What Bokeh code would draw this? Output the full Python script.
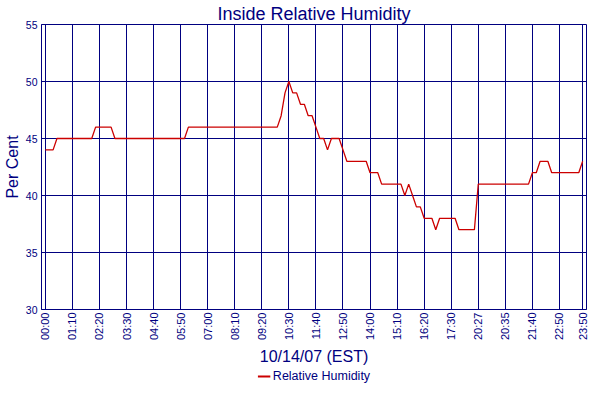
import math
from bokeh.plotting import figure
from bokeh.layouts import column
from bokeh.models import Range1d, FixedTicker, Legend, LegendItem
from bokeh.embed import file_html
from bokeh.resources import INLINE

# ---- data (sample index, relative humidity %) ----
rh_values = [
    44, 44, 44, 45, 45, 45, 45, 45, 45, 45,
    45, 45, 45, 46, 46, 46, 46, 46, 45, 45,
    45, 45, 45, 45, 45, 45, 45, 45, 45, 45,
    45, 45, 45, 45, 45, 45, 45, 46, 46, 46,
    46, 46, 46, 46, 46, 46, 46, 46, 46, 46,
    46, 46, 46, 46, 46, 46, 46, 46, 46, 46,
    46, 47, 49, 50, 49, 49, 48, 48, 47, 47,
    46, 45, 45, 44, 45, 45, 45, 44, 43, 43,
    43, 43, 43, 43, 42, 42, 42, 41, 41, 41,
    41, 41, 41, 40, 41, 40, 39, 39, 38, 38,
    38, 37, 38, 38, 38, 38, 38, 37, 37, 37,
    37, 37, 41, 41, 41, 41, 41, 41, 41, 41,
    41, 41, 41, 41, 41, 41, 42, 42, 43, 43,
    43, 42, 42, 42, 42, 42, 42, 42, 42, 43,
]
sample_index = list(range(len(rh_values)))

tick_labels = ["00:00", "01:10", "02:20", "03:30", "04:40", "05:50", "07:00",
               "08:10", "09:20", "10:30", "11:40", "12:50", "14:00", "15:10",
               "16:20", "17:30", "20:27", "20:35", "21:40", "22:50", "23:50"]
tick_index = [0, 7, 14, 21, 28, 35, 42, 49, 56, 63, 70, 77, 84, 91, 98,
              105, 112, 119, 126, 133, 139]
y_ticks = [30, 35, 40, 45, 50, 55]
series_name = "Relative Humidity"

NAVY = "#000080"
RED = "#CC0000"
FONT = "Liberation Sans"
W = 588

p = figure(width=W, height=368, output_backend="svg", toolbar_location=None,
           x_range=Range1d(-1, 140), y_range=Range1d(30, 55),
           min_border_left=0, min_border_right=2, min_border_top=0, min_border_bottom=50,
           background_fill_color="white", border_fill_color="white")

# title
p.title.text = "Inside Relative Humidity"
p.title.text_font = FONT
p.title.text_font_size = "18px"
p.title.text_font_style = "normal"
p.title.text_color = NAVY
p.title.align = "center"
p.title.standoff = 2
p.title.offset = 0

p.outline_line_color = NAVY
p.outline_line_width = 1
p.outline_line_alpha = 1

r = p.line(sample_index, rh_values, color=RED, line_width=1.3)

# x axis
xa = p.xaxis[0]
xa.ticker = FixedTicker(ticks=tick_index)
xa.major_label_overrides = {i: s for i, s in zip(tick_index, tick_labels)}
xa.major_label_orientation = math.pi / 2
xa.major_label_text_font = FONT
xa.major_label_text_font_size = "11px"
xa.major_label_text_color = NAVY
xa.major_label_standoff = 3
xa.major_tick_in = 0
xa.major_tick_out = 0
xa.minor_tick_in = 0
xa.minor_tick_out = 0
xa.axis_line_color = NAVY
xa.axis_label = "10/14/07 (EST)"
xa.axis_label_text_font = FONT
xa.axis_label_text_font_size = "16px"
xa.axis_label_text_font_style = "normal"
xa.axis_label_text_color = NAVY
xa.axis_label_standoff = 5

# y axis
ya = p.yaxis[0]
ya.ticker = FixedTicker(ticks=y_ticks)
ya.major_label_text_font = FONT
ya.major_label_text_font_size = "10.5px"
ya.major_label_text_color = NAVY
ya.major_label_standoff = 4
ya.major_tick_in = 0
ya.major_tick_out = 0
ya.minor_tick_in = 0
ya.minor_tick_out = 0
ya.axis_line_color = NAVY
ya.axis_label = "Per Cent"
ya.axis_label_text_font = FONT
ya.axis_label_text_font_size = "16px"
ya.axis_label_text_font_style = "normal"
ya.axis_label_text_color = NAVY
ya.axis_label_standoff = 2

# grids
for g in (p.xgrid[0], p.ygrid[0]):
    g.grid_line_color = NAVY
    g.grid_line_width = 1
    g.grid_line_alpha = 1
p.ygrid[0].ticker = FixedTicker(ticks=y_ticks)

# legend strip below the chart, centred on the image
q = figure(width=W, height=16, output_backend="svg", toolbar_location=None,
           x_range=Range1d(-1, 140), y_range=Range1d(0, 1),
           min_border=0, background_fill_color="white", border_fill_color="white")
q.axis.visible = False
q.grid.visible = False
q.outline_line_color = None
key = q.line(sample_index, rh_values, color=RED, line_width=2)  # off-range: only its legend key shows
legend = Legend(items=[LegendItem(label=series_name, renderers=[key])],
                location="center", orientation="horizontal",
                border_line_color=None, background_fill_alpha=0,
                label_text_font=FONT, label_text_font_size="12.5px",
                label_text_color=NAVY, glyph_width=13, glyph_height=12,
                label_standoff=3, padding=0, margin=0, spacing=0,
                label_height=14)
q.add_layout(legend, "center")

layout = column(p, q, spacing=0)
open("out.html", "w").write(file_html(layout, INLINE))
